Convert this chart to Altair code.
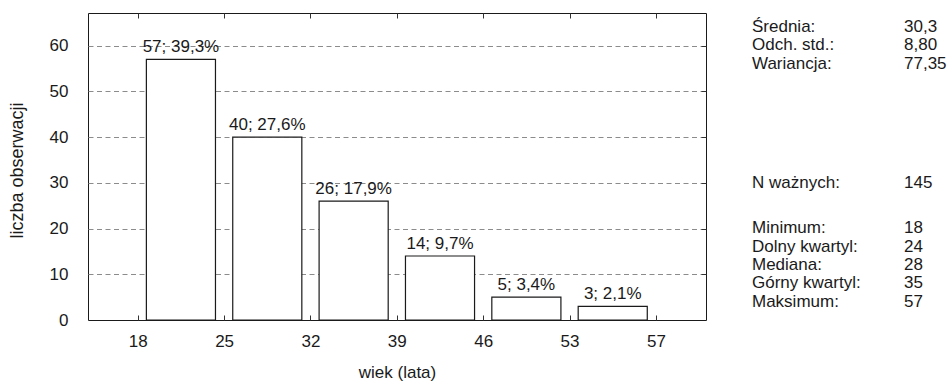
import altair as alt
import pandas as pd

# ---- data ----
tick_labels = ["18", "25", "32", "39", "46", "53", "57"]
counts = [57, 40, 26, 14, 5, 3]
percents = ["39,3%", "27,6%", "17,9%", "9,7%", "3,4%", "2,1%"]
y_ticks = [0, 10, 20, 30, 40, 50, 60]

stat_names = ["Średnia:", "Odch. std.:", "Wariancja:", "N ważnych:", "Minimum:",
              "Dolny kwartyl:", "Mediana:", "Górny kwartyl:", "Maksimum:"]
stat_values = ["30,3", "8,80", "77,35", "145", "18", "24", "28", "35", "57"]
# layout slots (row positions of the statistics block)
stat_slots = [0, 1, 2, 8.5, 11, 12, 13, 14, 15]

# ---- layout / style ----
FONT = "Liberation Sans"
FS = 17
INK = "#1a1a1a"
W, H = 618, 307
PAD_L, PAD_T = 88, 13

bars_df = pd.DataFrame({"bin": list(range(len(counts))), "count": counts, "pct": percents})
stats_df = pd.DataFrame({"name": stat_names, "value": stat_values, "slot": stat_slots})

label_expr = "[" + ",".join(f"'{t}'" for t in tick_labels) + "][datum.value]"
x_idx = list(range(len(tick_labels)))

x_scale = alt.Scale(domain=[-0.576, 6.58], nice=False, zero=False)
y_scale = alt.Scale(domain=[0, 67.15], nice=False)

base = alt.Chart(bars_df).transform_calculate(
    x0="datum.bin + 0.1",
    x1="datum.bin + 0.9",
    xm="datum.bin + 0.5",
    lbl="datum.count + '; ' + datum.pct",
)

bars = base.mark_rect(fill="white", stroke=INK, strokeWidth=1.2).encode(
    x=alt.X(
        "x0:Q", scale=x_scale,
        axis=alt.Axis(
            orient="bottom", values=x_idx, labelExpr=label_expr,
            offset=-5, tickSize=5, ticks=True, tickColor="#333", tickWidth=1,
            domain=False, grid=False, labelPadding=13, labelFontSize=FS,
            labelFont=FONT, labelColor=INK,
            title="wiek (lata)", titleFont=FONT, titleFontSize=FS,
            titleFontWeight="normal", titleColor=INK,
            titleY=57, titleBaseline="middle",
        ),
    ),
    x2="x1:Q",
    y=alt.Y(
        "count:Q", scale=y_scale,
        axis=alt.Axis(
            orient="left", values=y_ticks, ticks=False, domain=False,
            labelPadding=20, labelFontSize=FS, labelFont=FONT, labelColor=INK,
            grid=True, gridColor="#8c8c8c", gridDash=[5, 3.5], gridWidth=1,
            gridOpacity={"condition": {"test": "datum.value === 0", "value": 0}, "value": 1},
            title="liczba obserwacji", titleFont=FONT, titleFontSize=18,
            titleFontWeight="normal", titleColor=INK,
            titleX=-71, titleY=157, titleBaseline="middle", titleAlign="center",
        ),
    ),
    y2=alt.datum(0),
)

labels = base.mark_text(
    baseline="alphabetic", dy=-7, fontSize=FS, font=FONT, color=INK
).encode(
    x=alt.X(
        "xm:Q", scale=x_scale,
        axis=alt.Axis(orient="top", values=x_idx, labels=False, offset=-5,
                      tickSize=5, tickColor="#333", domain=False, grid=False, title=None),
    ),
    y=alt.Y(
        "count:Q", scale=y_scale,
        axis=alt.Axis(orient="right", values=y_ticks[1:], labels=False, offset=-5,
                      tickSize=5, tickColor="#333", domain=False, grid=False, title=None),
    ),
    text="lbl:N",
)

slot_scale = alt.Scale(domain=[-0.765, 16.01], reverse=True, nice=False, zero=False)

stat_name_layer = alt.Chart(stats_df).mark_text(
    align="left", baseline="middle", fontSize=FS, font=FONT, color=INK
).encode(
    x=alt.value(752 - PAD_L),
    y=alt.Y("slot:Q", scale=slot_scale, axis=None),
    text="name:N",
)

stat_value_layer = alt.Chart(stats_df).mark_text(
    align="left", baseline="middle", fontSize=FS, font=FONT, color=INK
).encode(
    x=alt.value(904 - PAD_L),
    y=alt.Y("slot:Q", scale=slot_scale, axis=None),
    text="value:N",
)

chart = (
    alt.layer(bars, labels, stat_name_layer, stat_value_layer)
    .resolve_scale(x="independent", y="independent")
    .resolve_axis(x="independent", y="independent")
    .properties(
        width=W, height=H,
        autosize=alt.AutoSizeParams(type="none"),
        padding={"left": PAD_L, "top": PAD_T, "right": 949 - PAD_L - W, "bottom": 382 - PAD_T - H},
        background="white",
    )
    .configure_view(stroke=INK, strokeWidth=1)
)

chart.save("out.html", embed_options={"renderer": "svg", "actions": False})
